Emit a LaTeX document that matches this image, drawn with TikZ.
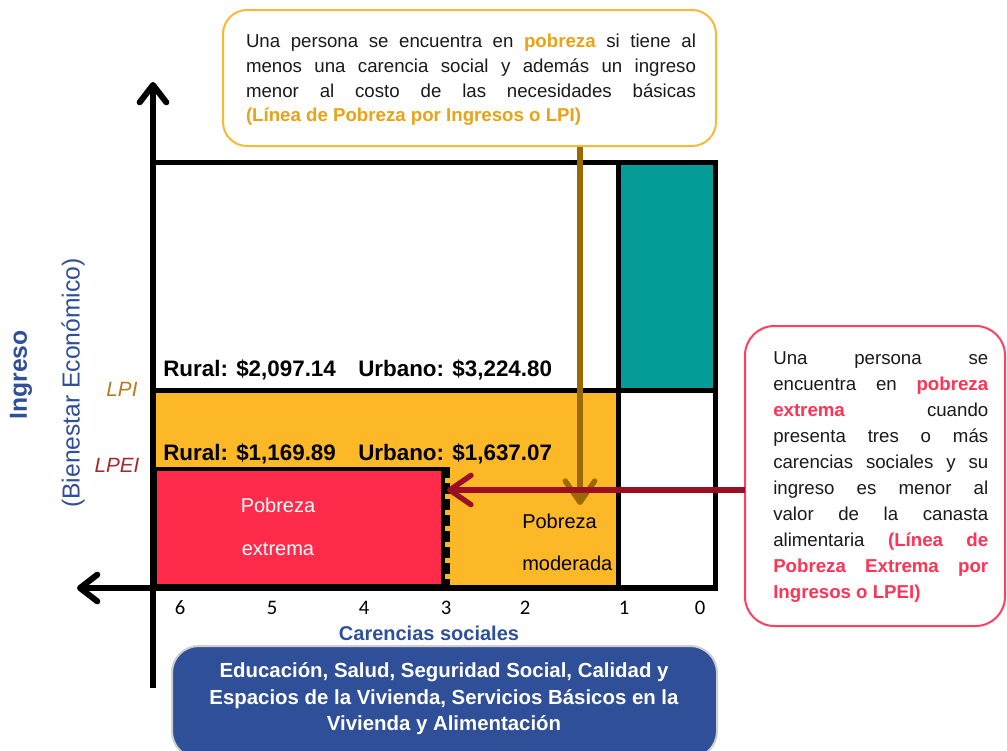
\documentclass[tikz,border=0pt]{standalone}
\usepackage{fontspec}
\setmainfont{Liberation Sans}
\newfontfamily\carlito{Carlito}
\usetikzlibrary{arrows.meta}
\tolerance=10000
\hyphenpenalty=10000
\hbadness=10000
\definecolor{porange}{HTML}{FDB827}
\definecolor{pred}{HTML}{FF2B4A}
\definecolor{pteal}{HTML}{059B96}
\definecolor{pblue}{HTML}{2F4F98}
\definecolor{pbrown}{HTML}{9A6A00}
\definecolor{pdarkred}{HTML}{9B0F22}
\definecolor{torange}{HTML}{E8A317}
\definecolor{tred}{HTML}{FF3355}
\definecolor{lpicol}{HTML}{B8791E}
\definecolor{lpeicol}{HTML}{A6282B}
\definecolor{boxorange}{HTML}{F9B938}
\definecolor{boxred}{HTML}{FF4060}
\definecolor{bodyblack}{HTML}{1A1A1A}
\definecolor{boxgray}{HTML}{CFCFCF}
\begin{document}
\begin{tikzpicture}[x=0.75pt,y=-0.75pt,
  chartline/.style={line width=3.75pt, line cap=rect},
  axisline/.style={line width=4.5pt, -{Straight Barb[length=13pt,width=20pt,round]}},
  bodytext/.style={inner sep=0pt, align=justify, font=\fontsize{14}{19.5}\selectfont, text=bodyblack},
  lpiboxstyle/.style={draw=boxorange, line width=1.5pt, rounded corners=18pt, fill=white},
  lpeiboxstyle/.style={draw=boxred, line width=1.5pt, rounded corners=22pt, fill=white},
  amount/.style={inner sep=0pt, anchor=base west, font=\fontsize{16.8}{20}\selectfont\bfseries, text=black},
  digit/.style={inner sep=0pt, font=\carlito\fontsize{15.5}{18}\selectfont, text=black},
  bluelabel/.style={inner sep=0pt, text=pblue},
  pointer/.style={line width=4pt, -{Straight Barb[length=16pt,width=22pt,round]}}
]
\useasboundingbox (0,0) rectangle (1007,750);

% chart regions
\fill[porange] (153,390) rectangle (618,588);
\fill[pteal] (618,162) rectangle (715,390);
\node[draw=black, fill=pred, line width=3pt, inner sep=0pt,
      minimum width=216pt, minimum height=87.75pt] (pe) at (299,527.5) {};
\draw[line width=4pt, dash pattern=on 8pt off 4pt] ([xshift=2pt]pe.north east) -- ([xshift=2pt]pe.south east);

% chart lines
\draw[chartline] (153,162) rectangle (715,588);
\draw[chartline] (153,390) -- (715,390);
\draw[chartline] (618,162) -- (618,588);

% axes
\coordinate (ybottom) at (153,688);
\coordinate (ytop) at (153,82);
\coordinate (xright) at (715,588);
\coordinate (xleft) at (77,588);
\draw[axisline] (ybottom) -- (ytop);
\draw[axisline] (xright) -- (xleft);

% thresholds
\node[amount] (rurallpi) at (163,376) {Rural: \$2,097.14};
\node[amount] (urbanolpi) at (358,376) {Urbano: \$3,224.80};
\node[amount] (rurallpei) at (163,460) {Rural: \$1,169.89};
\node[amount] (urbanolpei) at (358,460) {Urbano: \$1,637.07};

% region labels
\node[inner sep=0pt, align=center, text=white, font=\fontsize{15}{32}\selectfont] (pelabel) at (278,527) {Pobreza\\extrema};
\node[inner sep=0pt, align=left, anchor=west, text=black, font=\fontsize{15}{31.5}\selectfont] (pmlabel) at (522,542) {Pobreza\\moderada};

% axis labels
\node[bluelabel, rotate=90, font=\fontsize{18.5}{22}\selectfont\bfseries] (ingreso) at (21,375) {Ingreso};
\node[bluelabel, rotate=90, font=\fontsize{18.5}{22}\selectfont] (bienestar) at (73,383) {(Bienestar Económico)};
\node[inner sep=0pt, text=lpicol, font=\fontsize{15.5}{18}\selectfont\itshape] (lpi) at (122,389) {LPI};
\node[inner sep=0pt, text=lpeicol, font=\fontsize{15.5}{18}\selectfont\itshape] (lpei) at (117,465) {LPEI};

\node[digit] (c6) at (180,608) {6};
\node[digit] (c5) at (272,608) {5};
\node[digit] (c4) at (364,608) {4};
\node[digit] (c3) at (446,608) {3};
\node[digit] (c2) at (525,608) {2};
\node[digit] (c1) at (624,608) {1};
\node[digit] (c0) at (700,608) {0};
\node[bluelabel, font=\fontsize{15}{18}\selectfont\bfseries] (carencias) at (429,633) {Carencias sociales};

% dimensions box
\node[draw=boxgray, fill=pblue, line width=1.5pt, rounded corners=20pt, inner sep=0pt,
      minimum width=408.75pt, minimum height=84pt] (dimbox) at (444.5,702) {};
\node[inner sep=0pt, align=center, text=white, font=\fontsize{15.3}{19.9}\selectfont\bfseries] (dims) at (444,699)
  {Educación, Salud, Seguridad Social, Calidad y\\Espacios de la Vivienda, Servicios Básicos en la\\Vivienda y Alimentación};

% definition boxes
\node[lpiboxstyle, inner sep=0pt, minimum width=369.75pt, minimum height=102pt] (lpibox) at (469.5,78) {};
\node[bodytext, font=\fontsize{14}{18.6}\selectfont, text width=337.5pt] (lpitext) at (471,80)
  {Una persona se encuentra en \textcolor{torange}{\textbf{pobreza}} si tiene al\linebreak
   menos una carencia social y además un ingreso\linebreak
   menor al costo de las necesidades básicas\linebreak
   \textcolor{torange}{\textbf{(Línea de Pobreza por Ingresos o LPI)}}};

\node[lpeiboxstyle, inner sep=0pt, minimum width=195pt, minimum height=225pt] (lpeibox) at (875,476) {};
\node[bodytext, text width=161.25pt, anchor=west] (lpeitext) at (773,477)
  {Una persona se\linebreak
   encuentra en \textcolor{tred}{\textbf{pobreza}}\linebreak
   \textcolor{tred}{\textbf{extrema}} cuando\linebreak
   presenta tres o más\linebreak
   carencias sociales y su\linebreak
   ingreso es menor al\linebreak
   valor de la canasta\linebreak
   alimentaria \textcolor{tred}{\textbf{(Línea de}}\linebreak
   \textcolor{tred}{\textbf{Pobreza Extrema por}}\linebreak
   \textcolor{tred}{\textbf{Ingresos o LPEI)}}};

% pointers
\coordinate (browntip) at (580,505);
\draw[pointer, draw=pbrown] (lpibox.south -| browntip) -- (browntip);
\coordinate (redstart) at (745,490);
\draw[pointer, draw=pdarkred] (redstart) -- ([xshift=1.5pt]pe.east |- redstart);
\end{tikzpicture}
\end{document}
